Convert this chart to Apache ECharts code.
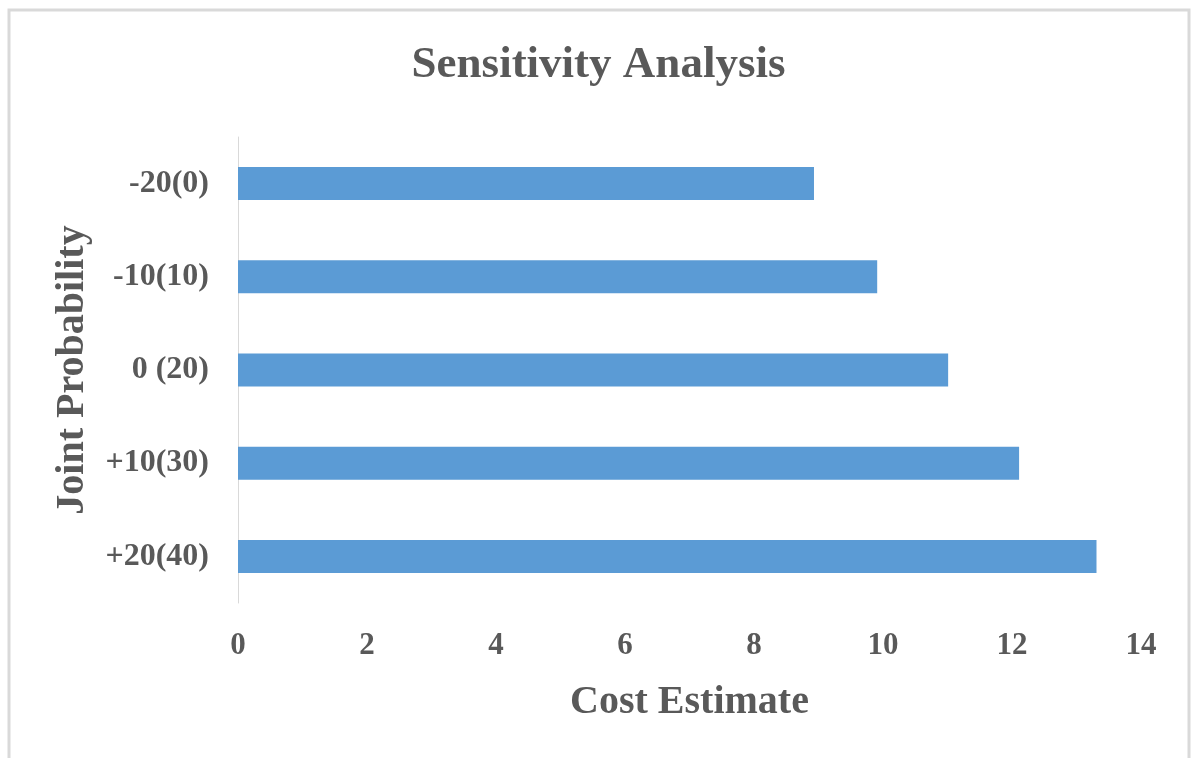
<!DOCTYPE html>
<html>
<head>
<meta charset="utf-8">
<script src="https://cdn.jsdelivr.net/npm/echarts@6/dist/echarts.min.js"></script>
<style>
  html, body { margin: 0; padding: 0; background: #ffffff; }
  #chart { width: 1197px; height: 758px; }
</style>
</head>
<body>
<div id="chart"></div>
<script>
// Joint probability scenarios, listed bottom-to-top on the category axis
const categories = ['+20(40)', '+10(30)', '0 (20)', '-10(10)', '-20(0)'];
// Cost estimate for each scenario
const costValues = [13.31, 12.11, 11.01, 9.91, 8.93];
// Cost axis ticks
const xTicks = [0, 2, 4, 6, 8, 10, 12, 14];

const textColor = '#595959';
const serif = '"Liberation Serif", "Times New Roman", serif';

const chart = echarts.init(document.getElementById('chart'), null, { renderer: 'canvas' });

chart.setOption({
  backgroundColor: '#ffffff',
  animation: false,
  graphic: [{
    type: 'rect',
    shape: { x: 9, y: 10, width: 1180, height: 760 },
    style: { fill: 'none', stroke: '#d9d9d9', lineWidth: 3 },
    silent: true
  }],
  title: {
    text: 'Sensitivity Analysis',
    left: 'center',
    top: 38,
    textStyle: { fontFamily: serif, fontWeight: 'bold', fontSize: 45, color: textColor }
  },
  grid: { left: 238, right: 56, top: 137, height: 466, containLabel: false },
  xAxis: {
    type: 'value',
    min: xTicks[0],
    max: xTicks[xTicks.length - 1],
    interval: xTicks[1] - xTicks[0],
    name: 'Cost Estimate',
    nameLocation: 'middle',
    nameGap: 80,
    nameTextStyle: { fontFamily: serif, fontWeight: 'bold', fontSize: 40, color: textColor },
    axisLine: { show: false },
    axisTick: { show: false },
    splitLine: { show: false },
    axisLabel: { margin: 27, fontFamily: serif, fontWeight: 'bold', fontSize: 31, color: textColor }
  },
  yAxis: {
    type: 'category',
    data: categories,
    name: 'Joint Probability',
    nameLocation: 'middle',
    nameGap: 145,
    nameRotate: 90,
    nameTextStyle: { fontFamily: serif, fontWeight: 'bold', fontSize: 40, color: textColor },
    axisLine: { show: true, lineStyle: { color: '#d9d9d9', width: 1 } },
    axisTick: { show: false },
    splitLine: { show: false },
    axisLabel: { margin: 29, fontFamily: serif, fontWeight: 'bold', fontSize: 32, color: textColor }
  },
  series: [{
    type: 'bar',
    data: costValues,
    barWidth: 33,
    itemStyle: { color: '#5b9bd5' },
    silent: true
  }]
});
</script>
</body>
</html>
